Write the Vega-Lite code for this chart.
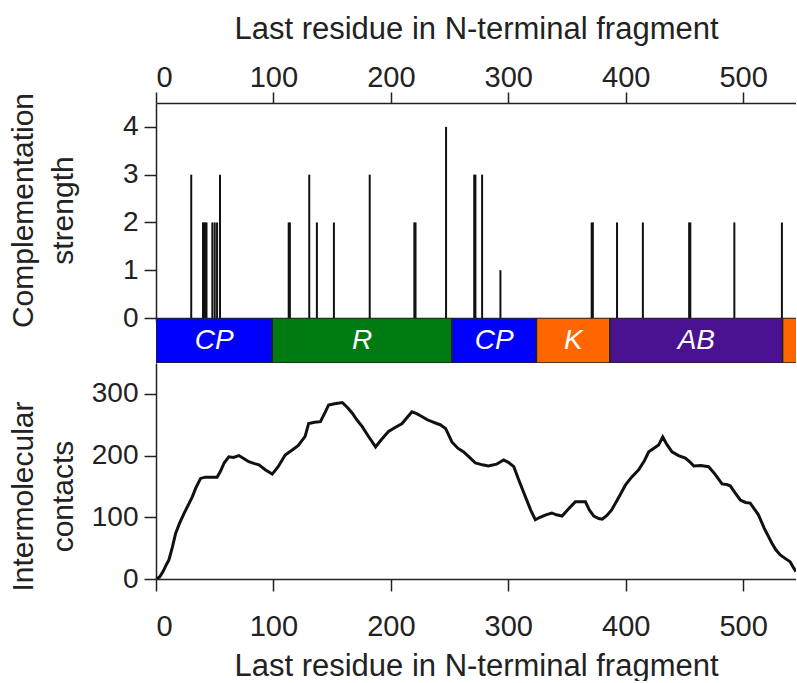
{
  "$schema": "https://vega.github.io/schema/vega-lite/v6.json",
  "padding": {"left": 8, "top": 13, "right": 0, "bottom": 0},
  "background": "white",
  "spacing": 0,
  "bounds": "flush",
  "config": {
    "view": {"stroke": null},
    "font": "Liberation Sans",
    "axis": {
      "grid": false,
      "domainColor": "#222",
      "tickColor": "#222",
      "labelColor": "#222",
      "titleColor": "#222",
      "domainWidth": 1.5,
      "tickWidth": 1.5,
      "labelFont": "Liberation Sans",
      "titleFont": "Liberation Sans",
      "titleFontWeight": "normal",
      "labelFontSize": 28,
      "titleFontSize": 30
    }
  },
  "datasets": {
    "spikes": [
      {"res": 30, "strength": 3}, {"res": 40, "strength": 2}, {"res": 41, "strength": 2},
      {"res": 42, "strength": 2}, {"res": 43, "strength": 2}, {"res": 48, "strength": 2},
      {"res": 50, "strength": 2}, {"res": 52, "strength": 2}, {"res": 54.5, "strength": 3},
      {"res": 113, "strength": 2}, {"res": 114, "strength": 2}, {"res": 130.5, "strength": 3},
      {"res": 137, "strength": 2}, {"res": 151.5, "strength": 2}, {"res": 182, "strength": 3},
      {"res": 220, "strength": 2}, {"res": 221, "strength": 2}, {"res": 247, "strength": 4},
      {"res": 271, "strength": 3}, {"res": 272, "strength": 3}, {"res": 277.7, "strength": 3},
      {"res": 293.3, "strength": 1}, {"res": 371, "strength": 2}, {"res": 372, "strength": 2},
      {"res": 392.6, "strength": 2}, {"res": 414.6, "strength": 2}, {"res": 454, "strength": 2},
      {"res": 455, "strength": 2}, {"res": 492.5, "strength": 2}, {"res": 533, "strength": 2}
    ],
    "domains": [
      {"start": 0, "end": 99, "domain": "CP", "label": "CP"},
      {"start": 99, "end": 252, "domain": "R", "label": "R"},
      {"start": 252, "end": 324, "domain": "CP", "label": "CP"},
      {"start": 324, "end": 386.6, "domain": "K", "label": "K"},
      {"start": 386.6, "end": 533.6, "domain": "AB", "label": "AB"},
      {"start": 533.6, "end": 560, "domain": "K", "label": ""}
    ],
    "contacts": [
      {"res": 0, "c": 0}, {"res": 3, "c": 3}, {"res": 6, "c": 12}, {"res": 9, "c": 24},
      {"res": 11, "c": 31}, {"res": 14, "c": 52}, {"res": 16.7, "c": 74}, {"res": 20, "c": 90},
      {"res": 23.8, "c": 106}, {"res": 27, "c": 118}, {"res": 30.9, "c": 133}, {"res": 34, "c": 148},
      {"res": 38, "c": 163}, {"res": 42, "c": 165}, {"res": 46, "c": 165}, {"res": 52, "c": 165},
      {"res": 55, "c": 175}, {"res": 58, "c": 188}, {"res": 62, "c": 198}, {"res": 66, "c": 197},
      {"res": 70.6, "c": 200}, {"res": 75, "c": 195}, {"res": 79, "c": 190}, {"res": 84, "c": 187},
      {"res": 87.7, "c": 185}, {"res": 93, "c": 177}, {"res": 99, "c": 170}, {"res": 104, "c": 182},
      {"res": 110, "c": 201}, {"res": 116, "c": 209}, {"res": 121, "c": 216}, {"res": 127, "c": 231},
      {"res": 130, "c": 252}, {"res": 135, "c": 254}, {"res": 140, "c": 255}, {"res": 144, "c": 270},
      {"res": 147, "c": 282}, {"res": 152, "c": 284}, {"res": 158.6, "c": 286}, {"res": 163, "c": 278},
      {"res": 167, "c": 269}, {"res": 171, "c": 258}, {"res": 175.6, "c": 247}, {"res": 181, "c": 231},
      {"res": 187, "c": 214}, {"res": 192, "c": 226}, {"res": 198, "c": 239}, {"res": 204, "c": 246},
      {"res": 209.6, "c": 252}, {"res": 214, "c": 262}, {"res": 218, "c": 271}, {"res": 222, "c": 268},
      {"res": 226.7, "c": 263}, {"res": 231, "c": 258}, {"res": 235, "c": 255}, {"res": 239, "c": 252},
      {"res": 242, "c": 250}, {"res": 246.6, "c": 244}, {"res": 252, "c": 222}, {"res": 257, "c": 212},
      {"res": 262, "c": 206}, {"res": 267, "c": 197}, {"res": 272, "c": 188}, {"res": 278, "c": 185},
      {"res": 283, "c": 183}, {"res": 290, "c": 186}, {"res": 296, "c": 193}, {"res": 300, "c": 189},
      {"res": 304.7, "c": 182}, {"res": 309, "c": 160}, {"res": 314.6, "c": 133}, {"res": 319, "c": 112},
      {"res": 323, "c": 96}, {"res": 327, "c": 100}, {"res": 332, "c": 104}, {"res": 337, "c": 107},
      {"res": 341, "c": 104}, {"res": 345.8, "c": 102}, {"res": 351, "c": 113}, {"res": 357, "c": 125},
      {"res": 362, "c": 125}, {"res": 365.7, "c": 125}, {"res": 369, "c": 112}, {"res": 372.8, "c": 102},
      {"res": 377, "c": 98}, {"res": 380, "c": 97}, {"res": 384, "c": 103}, {"res": 388, "c": 112},
      {"res": 394, "c": 132}, {"res": 399.7, "c": 152}, {"res": 405, "c": 165}, {"res": 411, "c": 177},
      {"res": 416, "c": 192}, {"res": 419.6, "c": 206}, {"res": 424, "c": 212}, {"res": 428, "c": 217},
      {"res": 431.5, "c": 230}, {"res": 435, "c": 218}, {"res": 439.4, "c": 206}, {"res": 445, "c": 200},
      {"res": 450.8, "c": 196}, {"res": 455, "c": 189}, {"res": 458, "c": 183}, {"res": 464, "c": 184},
      {"res": 470.6, "c": 182}, {"res": 476, "c": 170}, {"res": 482, "c": 154}, {"res": 486, "c": 153},
      {"res": 489, "c": 151}, {"res": 493, "c": 140}, {"res": 497.6, "c": 128}, {"res": 502, "c": 124},
      {"res": 506, "c": 123}, {"res": 509, "c": 115}, {"res": 513, "c": 104}, {"res": 518, "c": 82},
      {"res": 524.5, "c": 58}, {"res": 528, "c": 47}, {"res": 531.6, "c": 39}, {"res": 536, "c": 33},
      {"res": 540, "c": 28}, {"res": 543, "c": 18}, {"res": 545, "c": 12}
    ]
  },
  "vconcat": [
    {
      "width": 640,
      "height": 215,
      "data": {"name": "spikes"},
      "mark": {"type": "rule", "color": "#111", "strokeWidth": 2},
      "encoding": {
        "x": {
          "field": "res", "type": "quantitative",
          "scale": {"domain": [0, 545], "nice": false, "zero": false},
          "axis": {
            "orient": "top",
            "values": [0, 100, 200, 300, 400, 500],
            "tickSize": 11,
            "labelPadding": 0,
            "labelFontSize": 29,
            "title": "Last residue in N-terminal fragment",
            "titleFontSize": 31,
            "titlePadding": 18
          }
        },
        "y": {
          "field": "strength", "type": "quantitative",
          "scale": {"domain": [0, 4.5], "nice": false},
          "axis": {
            "values": [0, 1, 2, 3, 4],
            "tickSize": 12,
            "labelPadding": 6,
            "title": ["Complementation", "strength"],
            "titleX": -118,
            "titleY": 107,
            "titleAngle": -90,
            "titleAlign": "center",
            "titleBaseline": "bottom",
            "titleLineHeight": 40
          }
        },
        "y2": {"datum": 0}
      }
    },
    {
      "width": 640,
      "height": 45,
      "data": {"name": "domains"},
      "transform": [{"calculate": "(datum.start + datum.end) / 2", "as": "mid"}],
      "layer": [
        {
          "mark": {"type": "rect", "stroke": "#222", "strokeWidth": 1.5, "clip": true},
          "encoding": {
            "x": {
              "field": "start", "type": "quantitative",
              "scale": {"domain": [0, 545], "nice": false, "zero": false},
              "axis": {
                "orient": "top",
                "values": [0, 100, 200, 300, 400, 500],
                "tickSize": -4,
                "labels": false,
                "title": null
              }
            },
            "x2": {"field": "end"},
            "color": {
              "field": "domain", "type": "nominal",
              "scale": {"domain": ["CP", "R", "K", "AB"], "range": ["#0000FF", "#007A12", "#FF6600", "#4A1290"]},
              "legend": null
            }
          }
        },
        {
          "mark": {"type": "text", "color": "white", "fontSize": 28, "fontStyle": "italic", "font": "Liberation Sans", "clip": true},
          "encoding": {
            "x": {"field": "mid", "type": "quantitative"},
            "text": {"field": "label"}
          }
        }
      ]
    },
    {
      "width": 640,
      "height": 216,
      "data": {"name": "contacts"},
      "mark": {"type": "line", "color": "#111", "strokeWidth": 3, "clip": true},
      "encoding": {
        "x": {
          "field": "res", "type": "quantitative",
          "scale": {"domain": [0, 545], "nice": false, "zero": false},
          "axis": {
            "values": [0, 100, 200, 300, 400, 500],
            "tickSize": 12,
            "labelPadding": 21,
            "labelFontSize": 29,
            "title": "Last residue in N-terminal fragment",
            "titleFontSize": 31,
            "titlePadding": 10
          }
        },
        "y": {
          "field": "c", "type": "quantitative",
          "scale": {"domain": [0, 350], "nice": false},
          "axis": {
            "values": [0, 100, 200, 300],
            "tickSize": 12,
            "labelPadding": 6,
            "title": ["Intermolecular", "contacts"],
            "titleX": -118,
            "titleY": 133,
            "titleAngle": -90,
            "titleAlign": "center",
            "titleBaseline": "bottom",
            "titleLineHeight": 40
          }
        }
      }
    }
  ]
}
